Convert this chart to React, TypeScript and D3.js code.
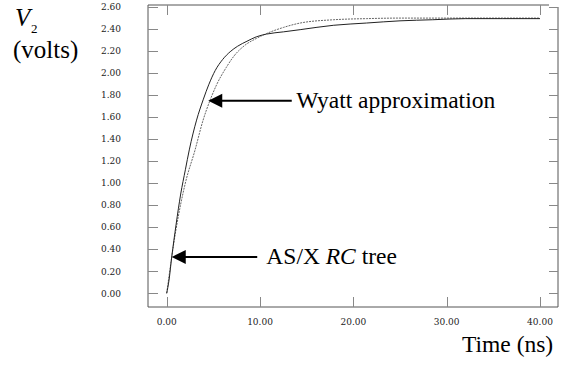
import React from "react";
import * as d3 from "d3";

const xTicks = [0, 10, 20, 30, 40];
const yTicks = [0, 0.2, 0.4, 0.6, 0.8, 1.0, 1.2, 1.4, 1.6, 1.8, 2.0, 2.2, 2.4, 2.6];

// AS/X RC tree response (solid)
const asxTime = [0, 0.25, 0.54, 1.0, 1.5, 2.0, 2.42, 3.2, 3.93, 4.5, 5.2, 6.0, 6.8, 7.6, 8.6, 9.6, 10.7, 12.5, 14.3, 17.9, 21.4, 25, 28.5, 32, 36, 40];
const asxVolts = [0, 0.12, 0.33, 0.62, 0.9, 1.12, 1.30, 1.57, 1.76, 1.89, 2.02, 2.12, 2.19, 2.24, 2.285, 2.325, 2.35, 2.37, 2.39, 2.43, 2.45, 2.47, 2.48, 2.49, 2.49, 2.49];

// Wyatt approximation (dashed)
const wyattTime = [0, 0.54, 1.0, 2.0, 3.04, 3.9, 4.6, 5.4, 6.4, 7.2, 8.4, 9.6, 10.7, 12.5, 14.3, 17.9, 21.4, 25, 32, 40];
const wyattVolts = [0, 0.33, 0.58, 1.0, 1.30, 1.57, 1.74, 1.90, 2.05, 2.15, 2.25, 2.31, 2.355, 2.41, 2.45, 2.48, 2.49, 2.495, 2.495, 2.495];

const annotations = [
  { text: "Wyatt approximation", tipT: 4.45, tipV: 1.745, tailT: 13.4, textT: 14.2, italic: [] as string[] },
  { text: "AS/X RC tree", tipT: 0.54, tipV: 0.33, tailT: 9.7, textT: 11.0, italic: ["RC"] },
];

export default function App() {
  const W = 564, H = 368;
  const x = d3.scaleLinear().domain([0, 40]).range([166.7, 540]);
  const y = d3.scaleLinear().domain([0, 2.6]).range([293.3, 6.5]);
  const frameL = 148, frameR = 558, frameT = 5, frameB = 307;

  const line = d3.line<[number, number]>().x(d => x(d[0])).y(d => y(d[1])).curve(d3.curveMonotoneX);
  const asx = asxTime.map((t, i) => [t, asxVolts[i]] as [number, number]);
  const wy = wyattTime.map((t, i) => [t, wyattVolts[i]] as [number, number]);

  const serif = "Liberation Serif";
  const tickFont = "DejaVu Serif";

  return (
    <svg width={W} height={H} style={{ position: "absolute", left: 0, top: 0, background: "#fff" }}>
      <rect x={0} y={0} width={W} height={H} fill="#fff" />
      <g stroke="#555" strokeWidth={1} fill="none">
        <line x1={frameL} y1={frameT} x2={frameL} y2={frameB} />
        <line x1={frameL} y1={frameB} x2={frameR} y2={frameB} />
        <line x1={frameR} y1={frameT + 2} x2={frameR} y2={frameB} />
        <line x1={frameL} y1={frameT} x2={frameR - 9} y2={frameT} />
      </g>
      <g stroke="#888" strokeWidth={1}>
        {yTicks.map(v => (
          <g key={"y" + v}>
            <line x1={frameL} x2={frameL + 10} y1={Math.round(y(v)) + 0.5} y2={Math.round(y(v)) + 0.5} />
            <line x1={frameR - 9} x2={frameR} y1={Math.round(y(v)) + 0.5} y2={Math.round(y(v)) + 0.5} />
          </g>
        ))}
        {xTicks.map(t => (
          <g key={"x" + t}>
            <line x1={Math.round(x(t)) + 0.5} x2={Math.round(x(t)) + 0.5} y1={frameB} y2={frameB - 10} />
            <line x1={Math.round(x(t)) + 0.5} x2={Math.round(x(t)) + 0.5} y1={frameT} y2={frameT + 10} />
          </g>
        ))}
      </g>
      <g fontFamily={tickFont} fontSize={9} fill="#222">
        {yTicks.map(v => (
          <text key={"yl" + v} x={121} y={y(v) + 3.3} textAnchor="end">{v.toFixed(2)}</text>
        ))}
        {xTicks.map(t => (
          <text key={"xl" + t} x={x(t)} y={325} textAnchor="middle">{t.toFixed(2)}</text>
        ))}
      </g>
      <path d={line(wy) || ""} fill="none" stroke="#666" strokeWidth={1} strokeDasharray="2,1" />
      <path d={line(asx) || ""} fill="none" stroke="#222" strokeWidth={1} />
      {annotations.map((a, i) => {
        const tx = x(a.tipT), ty = y(a.tipV);
        const baseX = tx + 14;
        const tailX = x(a.tailT);
        const parts = a.italic.length ? a.text.split(/(RC)/) : [a.text];
        return (
          <g key={"a" + i}>
            <line x1={baseX - 1} x2={tailX} y1={ty} y2={ty} stroke="#000" strokeWidth={2} />
            <path d={`M${tx},${ty} L${baseX},${ty - 7} L${baseX},${ty + 7} Z`} fill="#000" />
            <text x={x(a.textT) - 3} y={ty + 7} fontFamily={serif} fontSize={23.5} fill="#000">
              {parts.map((p, j) => (
                <tspan key={j} fontStyle={a.italic.includes(p) ? "italic" : "normal"}>{p}</tspan>
              ))}
            </text>
          </g>
        );
      })}
      <text x={15} y={26} fontFamily={serif} fontSize={25} fontStyle="italic" fill="#000">V</text>
      <text x={31} y={33} fontFamily={serif} fontSize={13} fill="#000">2</text>
      <text x={13} y={57.5} fontFamily={serif} fontSize={25} fill="#000">(volts)</text>
      <text x={462} y={352} fontFamily={serif} fontSize={23.5} fill="#000">Time (ns)</text>
    </svg>
  );
}
